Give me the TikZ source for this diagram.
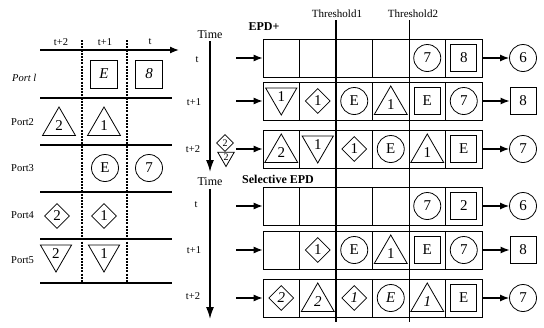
\documentclass[tikz,border=0pt]{standalone}
\usepackage{fontspec}
\setmainfont{Liberation Serif}
\usetikzlibrary{shapes.geometric,arrows.meta}
\tikzset{
  lbl/.style={font=\fontsize{10.5}{11}\selectfont, inner sep=0pt},
  sym/.style={draw, line width=0.8pt, font=\fontsize{15}{16}\selectfont, inner sep=0pt},
  sq/.style={sym, rectangle, minimum width=26pt, minimum height=27pt},
  cir/.style={sym, circle, minimum size=27pt},
  tri/.style={sym, regular polygon, regular polygon sides=3, minimum size=38pt},
  itri/.style={sym, regular polygon, regular polygon sides=3, shape border rotate=180, minimum size=36pt},
  dia/.style={sym, diamond, minimum size=25pt},
  cell/.style={draw, line width=0.6pt, rectangle, minimum width=36.5pt, minimum height=38pt, inner sep=0pt},
  thick line/.style={line width=1.2pt},
  arr/.style={line width=1.3pt, -{Latex[length=9pt,width=7pt]}},
  tarr/.style={line width=1.5pt, -{Latex[length=12pt,width=8pt]}},
  dline/.style={line width=1.3pt, dash pattern=on 2pt off 1.2pt},
  head/.style={font=\bfseries\fontsize{12}{13}\selectfont, inner sep=0pt},
  timelbl/.style={font=\fontsize{12}{13}\selectfont, inner sep=0pt},
}
\begin{document}
\begin{tikzpicture}[x=1pt,y=-1pt]
\useasboundingbox (0,0) rectangle (544,327);
% ---------- left table ----------
\coordinate (hs) at (40,50);
\coordinate (he) at (179,50);
\draw[arr] (hs) -- (he);
\node[lbl] (h2) at (61,42) {t+2};
\node[lbl] (h1) at (105,42) {t+1};
\node[lbl] (h0) at (150,42) {t};
\coordinate (d1a) at (82,40); \coordinate (d1b) at (82,284);
\coordinate (d2a) at (127,40); \coordinate (d2b) at (127,284);
\draw[dline] (d1a) -- (d1b);
\draw[dline] (d2a) -- (d2b);
\foreach \yy [count=\i] in {98,145,192,239,283}{
  \coordinate (la\i) at (40,\yy); \coordinate (lb\i) at (172,\yy);
  \draw[thick line] (la\i) -- (lb\i);
}
\node[lbl, anchor=west] (p1) at (12,78) {\itshape Port l};
\node[lbl, anchor=west] (p2) at (11,122) {Port2};
\node[lbl, anchor=west] (p3) at (11,168) {Port3};
\node[lbl, anchor=west] (p4) at (11,215) {Port4};
\node[lbl, anchor=west] (p5) at (11,260) {Port5};
\node[sq, minimum width=27pt, minimum height=28pt] (a1) at (104,74) {\itshape E};
\node[sq, minimum width=27pt, minimum height=28pt] (a2) at (149,74) {\itshape 8};
\node[tri] (b1) at (59,126) {2};
\node[tri] (b2) at (104,126) {1};
\node[cir] (c1) at (105,168) {E};
\node[cir] (c2) at (149,168) {7};
\node[dia] (e1) at (57,216) {2};
\node[dia] (e2) at (104,216) {1};
\node[itri] (f1) at (56,254) {2};
\node[itri] (f2) at (104,254) {1};
% ---------- thresholds ----------
\node[lbl, font=\fontsize{11}{12}\selectfont] (th1) at (337,14) {Threshold1};
\node[lbl, font=\fontsize{11}{12}\selectfont] (th2) at (413,14) {Threshold2};
\coordinate (t1a) at (336,20); \coordinate (t1b) at (336,322);
\coordinate (t2a) at (409.5,20); \coordinate (t2b) at (409.5,322);
% ---------- time axes ----------
\node[timelbl] (time1) at (210,35) {Time};
\coordinate (ta1) at (210,41); \coordinate (tb1) at (210,172);
\draw[tarr] (ta1) -- (tb1);
\node[lbl] (tt1) at (197,60) {t};
\node[lbl] (tt2) at (194,102) {t+1};
\node[lbl] (tt3) at (193,149) {t+2};
\node[sym, diamond, minimum size=17pt, font=\fontsize{10}{10}\selectfont] (sd) at (225,143) {2};
\node[sym, regular polygon, regular polygon sides=3, shape border rotate=180, minimum size=19pt, font=\fontsize{10}{10}\selectfont] (st) at (226,157) {2};
\node[head] (epd) at (264,27) {EPD+};
\node[timelbl] (time2) at (210,182) {Time};
\coordinate (ta2) at (210,189); \coordinate (tb2) at (210,319);
\draw[tarr] (ta2) -- (tb2);
\node[lbl] (ts1) at (196,205) {t};
\node[lbl] (ts2) at (194,250) {t+1};
\node[lbl] (ts3) at (193,296) {t+2};
\node[head] (sepd) at (278,179) {Selective EPD};
% ---------- buffer cells ----------
\foreach \r/\yy in {1/58,2/101,3/149,4/206,5/250,6/298}{
  \foreach \c in {1,...,6}{
    \node[cell] (r\r c\c) at ({263+36.5*(\c-0.5)},\yy) {};
  }
  \coordinate (in\r) at (236,\yy);
  \draw[arr] (in\r) -- (r\r c1.west);
}
\draw[line width=1.2pt] (t1a) -- (t1b);
\draw[line width=1.2pt] (t2a) -- (t2b);
% row 1
\node[cir] at (r1c5) {7};
\node[sq] at (r1c6) {8};
\node[cir] (o1) at (523,58) {6};
% row 2
\node[itri] at ([yshift=4pt]r2c1) {1};
\node[dia] at (r2c2) {1};
\node[cir] at (r2c3) {E};
\node[tri] at ([yshift=-4pt]r2c4) {1};
\node[sq] at (r2c5) {E};
\node[cir] at (r2c6) {7};
\node[sq] (o2) at (523,101) {8};
% row 3
\node[tri] at ([yshift=-4pt]r3c1) {2};
\node[itri] at ([yshift=4pt]r3c2) {1};
\node[dia] at (r3c3) {1};
\node[cir] at (r3c4) {E};
\node[tri] at ([yshift=-4pt]r3c5) {1};
\node[sq] at (r3c6) {E};
\node[cir] (o3) at (523,149) {7};
% row 4
\node[cir] at (r4c5) {7};
\node[sq] at (r4c6) {2};
\node[cir] (o4) at (523,206) {6};
% row 5
\node[dia] at (r5c2) {1};
\node[cir] at (r5c3) {E};
\node[tri] at ([yshift=-4pt]r5c4) {1};
\node[sq] at (r5c5) {E};
\node[cir] at (r5c6) {7};
\node[sq] (o5) at (523,250) {8};
% row 6
\node[dia] at (r6c1) {\itshape 2};
\node[tri] at ([yshift=-4pt]r6c2) {\itshape 2};
\node[dia] at (r6c3) {\itshape 1};
\node[cir] at (r6c4) {\itshape E};
\node[tri] at ([yshift=-4pt]r6c5) {\itshape 1};
\node[sq] at (r6c6) {E};
\node[cir] (o6) at (523,298) {7};
\foreach \r in {1,...,6}{
  \draw[arr] (r\r c6.east) -- (o\r.west);
}
\end{tikzpicture}
\end{document}
